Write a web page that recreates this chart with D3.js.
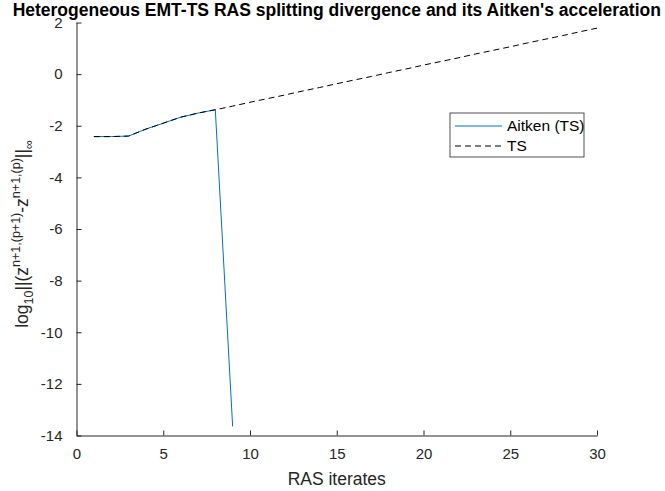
<!DOCTYPE html>
<meta charset="utf-8">
<style>
body { margin: 0; background: #fff; }
text { font-family: 'Liberation Sans', Arial, sans-serif; fill: #262626; }
.title { font-size: 17.5px; font-weight: bold; fill: #000; }
.tick text { font-size: 15px; fill: #262626; }
.axlabel { font-size: 17.5px; }
.legendLabel { font-size: 15.5px; fill: #000; }
</style>
<body>
<script src="https://d3js.org/d3.v7.min.js"></script>
<script>
    // iterates and log10 residuals
    const iters = d3.range(1, 31);
    const tsVals = [-2.42, -2.42, -2.40, -2.13, -1.90, -1.67, -1.51, -1.38,
                    -1.24, -1.09, -0.95, -0.81, -0.66, -0.52, -0.37, -0.23,
                    -0.09, 0.06, 0.20, 0.35, 0.49, 0.63, 0.78, 0.92,
                    1.06, 1.21, 1.35, 1.49, 1.64, 1.78];
    const aitkenIters = [1, 2, 3, 4, 5, 6, 7, 8, 9];
    const aitkenVals = [-2.42, -2.42, -2.40, -2.13, -1.90, -1.67, -1.51, -1.38, -13.65];
    const xTicks = [0, 5, 10, 15, 20, 25, 30];
    const yTicks = [-14, -12, -10, -8, -6, -4, -2, 0, 2];
    const seriesNames = ["Aitken (TS)", "TS"];

    const width = 665, height = 491,
          margin = {left: 76.5, right: 68, top: 22.5, bottom: 55.5};

    const svg = d3.select("body").append("svg")
        .attr("width", width)
        .attr("height", height);

    const x = d3.scaleLinear().domain([0, 30]).range([margin.left, width - margin.right]);
    const y = d3.scaleLinear().domain([-14, 2]).range([height - margin.bottom, margin.top]);

    // axes (box off, ticks pointing in), plain hyphen minus like MATLAB
    const fmt = d => String(d);
    const xAxis = svg.append("g")
        .attr("transform", `translate(0,${y(-14)})`)
        .call(d3.axisBottom(x).tickValues(xTicks).tickFormat(fmt).tickSizeInner(-5).tickSizeOuter(0).tickPadding(13));
    const yAxis = svg.append("g")
        .attr("transform", `translate(${x(0)},0)`)
        .call(d3.axisLeft(y).tickValues(yTicks).tickFormat(fmt).tickSizeInner(-5).tickSizeOuter(0).tickPadding(14));
    [xAxis, yAxis].forEach(a => {
        a.select(".domain").attr("stroke", "#262626");
        a.selectAll(".tick line").attr("stroke", "#262626");
        a.selectAll(".tick text").attr("font-family", null).attr("font-size", null);
    });

    const line = d3.line().x(d => x(d[0])).y(d => y(d[1]));

    svg.append("path")
        .datum(aitkenIters.map((d, i) => [d, aitkenVals[i]]))
        .attr("fill", "none")
        .attr("stroke", "#0072BD")
        .attr("stroke-width", 1)
        .attr("d", line);

    svg.append("path")
        .datum(iters.map((d, i) => [d, tsVals[i]]))
        .attr("fill", "none")
        .attr("stroke", "#000")
        .attr("stroke-width", 1)
        .attr("stroke-dasharray", "6,4")
        .attr("d", line);

    // title and labels
    svg.append("text")
        .attr("class", "title")
        .attr("x", (x(0) + x(30)) / 2)
        .attr("y", 16)
        .attr("text-anchor", "middle")
        .text("Heterogeneous EMT-TS RAS splitting divergence and its Aitken's acceleration");

    svg.append("text")
        .attr("class", "axlabel")
        .attr("x", (x(0) + x(30)) / 2)
        .attr("y", 485)
        .attr("text-anchor", "middle")
        .text("RAS iterates");

    const yl = svg.append("text")
        .attr("class", "axlabel")
        .attr("text-anchor", "middle")
        .attr("transform", `translate(28,${(y(-14) + y(2)) / 2 + 5}) rotate(-90)`);
    const parts = [
        ["log", 0], ["10", 1], ["||(z", 0], ["n+1,(p+1)", -1], ["-z", 0],
        ["n+1,(p)", -1], ["||", 0], ["\u221E", 1]
    ];
    let shift = 0;
    parts.forEach(([t, lvl]) => {
        const target = lvl === 0 ? 0 : (lvl > 0 ? 5 : -8);
        yl.append("tspan")
            .attr("dy", target - shift)
            .attr("font-size", lvl === 0 ? "17.5px" : "12.5px")
            .text(t);
        shift = target;
    });

    // legend
    const lg = svg.append("g").attr("transform", "translate(450,113)");
    lg.append("rect")
        .attr("width", 134).attr("height", 44)
        .attr("fill", "#fff").attr("stroke", "#262626").attr("stroke-width", 0.8);
    const items = lg.selectAll("g.item")
        .data(seriesNames)
        .join("g")
        .attr("transform", (d, i) => `translate(0,${13 + i * 20})`);
    items.append("line")
        .attr("x1", 5).attr("x2", 52)
        .attr("stroke", (d, i) => i === 0 ? "#0072BD" : "#000")
        .attr("stroke-dasharray", (d, i) => i === 0 ? null : "6,4");
    items.append("text")
        .attr("class", "legendLabel")
        .attr("x", 57)
        .attr("dy", "0.35em")
        .text(d => d);
</script>
</body>
